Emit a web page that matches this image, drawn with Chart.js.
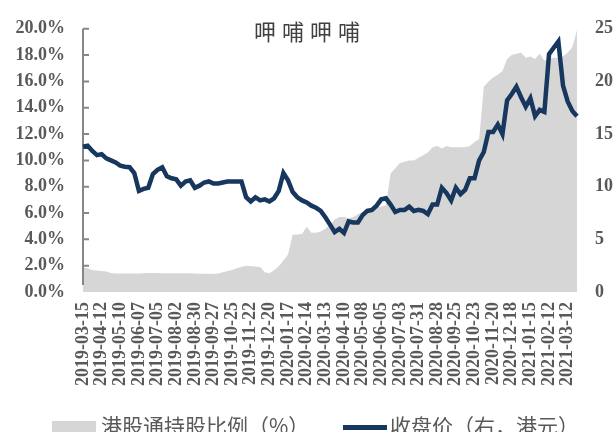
<!DOCTYPE html>
<html>
<head>
<meta charset="utf-8">
<script src="https://cdn.jsdelivr.net/npm/chart.js@4.4.0/dist/chart.umd.min.js"></script>
<style>
  body { margin: 0; background: #fff; }
  #wrap { position: relative; width: 616px; height: 432px; overflow: hidden; }
  .leg { position: absolute; font-family: "Noto Sans CJK SC", sans-serif; font-size: 21px; line-height: 22px; color: #595959; white-space: nowrap; }
</style>
</head>
<body>
<div id="wrap">
  <canvas id="grafico" width="616" height="432"></canvas>
  <div style="position:absolute; left:52px; top:421px; width:44px; height:15px; background:#d6d6d6;"></div>
  <div class="leg" style="left:101px; top:414px;">港股通持股比例（%）</div>
  <div style="position:absolute; left:343px; top:425px; width:44px; height:5px; background:#17375e;"></div>
  <div class="leg" style="left:390px; top:414px;">收盘价（右，港元）</div>
</div>
<script>
// tick labels shown on the x axis (every 4th week)
const tickLabels = [
  '2019-03-15', '2019-04-12', '2019-05-10', '2019-06-07', '2019-07-05', '2019-08-02',
  '2019-08-30', '2019-09-27', '2019-10-25', '2019-11-22', '2019-12-20', '2020-01-17',
  '2020-02-14', '2020-03-13', '2020-04-10', '2020-05-08', '2020-06-05', '2020-07-03',
  '2020-07-31', '2020-08-28', '2020-09-25', '2020-10-23', '2020-11-20', '2020-12-18',
  '2021-01-15', '2021-02-12', '2021-03-12'
];

// 港股通持股比例 (%), weekly
const holdingPct = [
  1.87, 1.80, 1.65, 1.63, 1.60, 1.55, 1.45, 1.40, 1.40, 1.40,
  1.40, 1.40, 1.40, 1.42, 1.45, 1.45, 1.45, 1.43, 1.42, 1.42,
  1.42, 1.43, 1.42, 1.42, 1.40, 1.38, 1.38, 1.38, 1.36, 1.40,
  1.50, 1.60, 1.68, 1.80, 1.90, 2.00, 1.95, 1.93, 1.90, 1.50,
  1.43, 1.65, 1.95, 2.40, 2.85, 4.37, 4.37, 4.40, 4.96, 4.50,
  4.50, 4.60, 4.80, 5.10, 5.50, 5.70, 5.70, 5.60, 5.70, 5.90,
  6.10, 6.20, 6.30, 6.40, 6.50, 6.60, 9.00, 9.40, 9.80, 9.90,
  10.0, 10.0, 10.2, 10.4, 10.6, 11.0, 11.1, 10.9, 11.1, 11.0,
  11.0, 11.0, 11.0, 11.1, 11.4, 11.6, 15.6, 16.0, 16.3, 16.5,
  16.8, 17.7, 18.0, 18.1, 18.2, 17.8, 17.9, 17.7, 18.1, 17.6,
  17.7, 17.8, 17.8, 17.9, 18.2, 18.6, 19.9
];

// 收盘价 (港元), weekly
const closePrice = [
  13.8, 13.9, 13.4, 13.0, 13.1, 12.7, 12.5, 12.3, 12.0, 11.9,
  11.85, 11.3, 9.6, 9.8, 9.9, 11.2, 11.6, 11.85, 11.0, 10.8,
  10.7, 10.1, 10.5, 10.6, 9.9, 10.1, 10.4, 10.5, 10.3, 10.3,
  10.4, 10.5, 10.5, 10.5, 10.5, 9.0, 8.6, 9.0, 8.7, 8.8,
  8.6, 8.9, 9.6, 11.3, 10.6, 9.5, 9.0, 8.7, 8.5, 8.2,
  8.0, 7.7, 7.1, 6.4, 5.7, 6.0, 5.6, 6.7, 6.6, 6.6,
  7.3, 7.7, 7.8, 8.2, 8.8, 8.9, 8.3, 7.6, 7.8, 7.8,
  8.1, 7.7, 7.8, 7.7, 7.4, 8.3, 8.3, 9.9, 9.4, 8.7,
  9.9, 9.3, 9.7, 10.8, 10.8, 12.5, 13.3, 15.2, 15.2, 15.9,
  15.0, 18.2, 18.8, 19.5, 18.5, 17.6, 18.4, 16.7, 17.3, 17.1,
  22.6, 23.2, 23.8, 19.6, 18.1, 17.2, 16.7
];

// weekly dates starting 2019-03-15
const fechas = [];
const inicio = Date.UTC(2019, 2, 15);
for (let i = 0; i < holdingPct.length; i++) {
  fechas.push(new Date(inicio + i * 7 * 86400000).toISOString().slice(0, 10));
}

const tickFont = { family: '"Liberation Serif", serif', size: 18, weight: 'bold' };

// title inside the plot + left axis line with inward ticks
const extras = {
  id: 'extras',
  afterDatasetDraw(chart, args) {
    if (args.index !== 0) return;
    const ctx = chart.ctx;
    const y = chart.scales.y;
    ctx.save();
    ctx.strokeStyle = '#868686';
    ctx.lineWidth = 2;
    ctx.beginPath();
    ctx.moveTo(y.right, chart.chartArea.top);
    ctx.lineTo(y.right, chart.chartArea.bottom - 7);
    y.ticks.forEach(t => {
      const py = y.getPixelForValue(t.value);
      if (py > chart.chartArea.bottom - 7) return;
      ctx.moveTo(y.right, py);
      ctx.lineTo(y.right + 6, py);
    });
    ctx.stroke();
    ctx.restore();
  },
  afterDraw(chart) {
    const ctx = chart.ctx;
    ctx.save();
    ctx.font = '22px "Noto Sans CJK SC"';
    ctx.fillStyle = '#404040';
    ctx.textAlign = 'center';
    ctx.textBaseline = 'middle';
    ctx.letterSpacing = '6px';
    ctx.fillText('呷哺呷哺', 310, 32);
    ctx.restore();
  }
};

const ctx = document.getElementById('grafico').getContext('2d');
new Chart(ctx, {
  type: 'line',
  data: {
    labels: fechas,
    datasets: [
      {
        label: '港股通持股比例（%）',
        data: holdingPct,
        yAxisID: 'y',
        fill: 'origin',
        backgroundColor: '#d6d6d6',
        borderWidth: 0,
        pointRadius: 0,
        tension: 0,
        order: 2
      },
      {
        label: '收盘价（右，港元）',
        data: closePrice,
        yAxisID: 'y1',
        fill: false,
        borderColor: '#17375e',
        borderWidth: 4.5,
        pointRadius: 0,
        tension: 0,
        order: 1
      }
    ]
  },
  options: {
    responsive: false,
    animation: false,
    layout: { padding: { top: 22, left: 0, right: 0, bottom: 40 } },
    plugins: {
      legend: { display: false },
      tooltip: { enabled: false }
    },
    scales: {
      x: {
        grid: { display: false, drawTicks: false },
        border: { display: false },
        ticks: {
          autoSkip: false,
          minRotation: 90,
          maxRotation: 90,
          padding: 10,
          color: '#595959',
          font: tickFont,
          callback: function (value) {
            const lab = this.getLabelForValue(value);
            return tickLabels.includes(lab) ? lab : '';
          }
        },
        afterFit: s => { s.height = 100; }
      },
      y: {
        position: 'left',
        min: 0,
        max: 20,
        grid: { display: false, drawTicks: false },
        border: { display: false },
        ticks: {
          stepSize: 2,
          padding: 18,
          color: '#595959',
          font: tickFont,
          callback: v => v.toFixed(1) + '%'
        },
        afterFit: s => { s.width = 83; }
      },
      y1: {
        position: 'right',
        min: 0,
        max: 25,
        grid: { display: false, drawTicks: false },
        border: { display: false },
        ticks: {
          stepSize: 5,
          padding: 18,
          color: '#595959',
          font: tickFont
        },
        afterFit: s => { s.width = 39; }
      }
    }
  },
  plugins: [extras]
});
</script>
</body>
</html>
